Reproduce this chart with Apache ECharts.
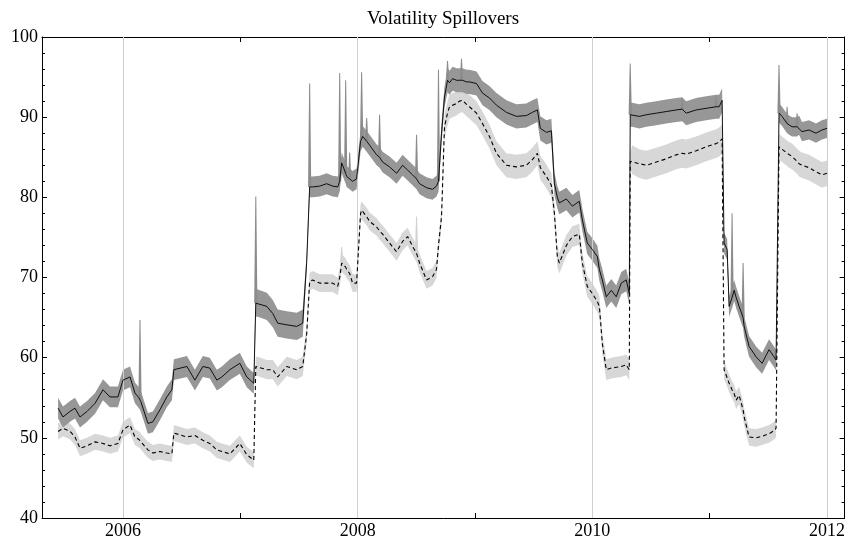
<!DOCTYPE html>
<html><head><meta charset="utf-8">
<script src="https://cdn.jsdelivr.net/npm/echarts@6/dist/echarts.min.js"></script>
<style>html,body{margin:0;padding:0;background:#fff}#c{width:848px;height:543px}</style>
</head><body><div id="c"></div>
<script>
const chartTitle = 'Volatility Spillovers';
const years = [
2005.447,2005.489,2005.549,2005.591,2005.634,2005.694,2005.762,2005.830,2005.889,2005.957,
2006.000,2006.060,2006.102,2006.136,2006.145,2006.153,2006.213,2006.255,2006.315,2006.374,
2006.417,2006.434,2006.545,2006.613,2006.681,2006.740,2006.800,2006.843,2006.911,2006.996,
2007.055,2007.115,2007.132,2007.149,2007.226,2007.277,2007.319,2007.396,2007.481,2007.532,
2007.566,2007.591,2007.617,2007.677,2007.736,2007.787,2007.830,2007.847,2007.864,2007.898,
2007.906,2007.932,2007.957,2007.991,2008.025,2008.034,2008.043,2008.077,2008.102,2008.162,
2008.187,2008.213,2008.272,2008.332,2008.383,2008.426,2008.468,2008.502,2008.528,2008.587,
2008.638,2008.672,2008.689,2008.715,2008.740,2008.766,2008.783,2008.809,2008.843,2008.868,
2008.885,2008.894,2008.928,2008.953,2009.013,2009.064,2009.123,2009.183,2009.268,2009.353,
2009.438,2009.489,2009.532,2009.557,2009.609,2009.651,2009.677,2009.702,2009.719,2009.779,
2009.830,2009.889,2009.915,2009.957,2010.000,2010.043,2010.060,2010.085,2010.119,2010.162,
2010.204,2010.247,2010.289,2010.315,2010.323,2010.340,2010.400,2010.460,2010.545,2010.630,
2010.715,2010.766,2010.800,2010.885,2010.970,2011.055,2011.081,2011.106,2011.123,2011.149,
2011.166,2011.191,2011.209,2011.226,2011.251,2011.285,2011.294,2011.336,2011.396,2011.447,
2011.506,2011.549,2011.566,2011.591,2011.617,2011.660,2011.677,2011.702,2011.745,2011.762,
2011.787,2011.847,2011.906,2011.957,2012.000
];
const solid = [
53.7,52.6,53.3,53.7,52.6,53.3,54.3,56.0,55.1,55.1,
57.2,57.6,55.6,55.0,54.8,54.5,51.8,52.0,53.5,55.1,
56.0,58.5,58.9,57.2,58.9,58.7,57.2,57.6,58.5,59.3,
57.6,56.8,66.8,66.8,66.4,65.5,64.3,64.1,63.9,64.3,
72.0,81.3,81.3,81.4,81.7,81.4,81.3,82.0,84.3,83.0,
82.6,82.3,82.0,82.3,87.0,87.3,87.6,87.0,86.5,85.3,
85.0,84.4,83.8,83.0,84.0,83.4,82.8,82.3,81.7,81.2,
81.0,81.4,82.0,88.0,92.5,94.6,94.3,94.8,94.6,94.6,
94.6,94.6,94.4,94.4,94.2,93.0,92.4,91.5,90.6,90.1,
90.2,90.6,90.9,88.6,88.1,88.3,81.7,80.0,79.3,79.8,
78.9,79.5,77.2,74.3,73.5,72.6,71.0,69.7,67.6,68.4,
67.6,69.3,69.7,68.0,90.3,90.3,90.1,90.3,90.5,90.7,
90.9,91.0,90.5,90.9,91.1,91.3,91.3,92.1,74.3,73.5,
66.4,67.5,68.4,67.5,66.4,65.0,63.9,61.4,60.1,59.3,
61.0,60.1,59.7,90.5,90.1,89.2,89.0,88.8,88.8,89.0,
88.2,88.4,88.0,88.4,88.6
];
const solidBand = [
1.3,1.3,1.3,1.3,1.3,1.3,1.3,1.3,1.3,1.3,
1.3,1.3,1.3,1.3,1.3,1.3,1.3,1.3,1.3,1.3,
1.3,1.3,1.3,1.3,1.3,1.3,1.3,1.3,1.3,1.3,
1.3,1.3,1.7,1.7,1.7,1.7,1.7,1.7,1.7,1.7,
1.0,1.3,1.3,1.3,1.3,1.3,1.3,1.3,1.3,1.3,
1.3,1.3,1.3,1.3,1.3,1.3,1.3,1.3,1.3,1.3,
1.3,1.3,1.3,1.3,1.3,1.3,1.3,1.3,1.3,1.3,
1.3,1.3,1.3,1.3,1.3,1.5,1.5,1.5,1.5,1.5,
1.5,1.5,1.5,1.5,1.5,1.5,1.5,1.5,1.5,1.5,
1.5,1.5,1.5,1.5,1.5,1.5,1.4,1.4,1.4,1.4,
1.4,1.4,1.4,1.4,1.4,1.4,1.4,1.4,1.4,1.4,
1.4,1.4,1.4,1.4,1.5,1.5,1.5,1.5,1.5,1.5,
1.5,1.5,1.5,1.5,1.5,1.5,1.5,1.5,1.3,1.3,
1.3,1.3,1.3,1.3,1.3,1.3,1.3,1.3,1.3,1.3,
1.3,1.3,1.3,1.2,1.2,1.2,1.2,1.2,1.2,1.2,
1.2,1.2,1.2,1.2,1.2
];
const dashed = [
50.8,51.2,50.8,50.1,48.7,49.0,49.5,49.3,49.0,49.3,
51.0,51.6,50.1,49.8,49.7,49.5,48.5,48.1,48.3,48.1,
48.0,50.6,50.1,50.3,49.7,49.3,48.5,48.3,48.0,49.3,
47.9,47.2,58.9,58.9,58.5,58.5,57.6,58.9,58.5,58.9,
63.0,69.5,69.7,69.3,69.3,69.3,68.9,70.0,71.8,71.3,
71.0,70.5,69.3,69.3,78.0,78.4,78.2,77.6,77.0,76.3,
75.8,75.4,74.3,73.2,74.5,75.1,73.9,73.0,71.8,69.7,
70.1,71.0,74.0,77.6,88.8,90.5,91.3,91.5,91.7,92.0,
92.1,92.1,91.6,91.3,90.5,89.2,87.6,85.5,84.0,83.8,
84.0,84.7,85.5,83.7,82.6,81.5,78.0,72.6,71.8,74.0,
75.1,75.4,71.8,68.9,68.0,67.0,66.4,61.8,58.5,58.7,
58.8,58.9,59.1,58.5,84.5,84.7,84.2,84.0,84.4,84.8,
85.3,85.5,85.4,85.8,86.3,86.7,86.9,87.3,58.5,57.5,
56.8,56.0,55.5,54.7,55.3,53.5,52.6,50.1,50.0,50.2,
50.5,50.9,51.2,86.3,86.0,85.5,85.3,85.1,84.5,84.2,
84.0,83.7,83.2,82.8,83.0
];
const dashedBand = [
1.0,1.0,1.0,1.0,1.0,1.0,1.0,1.0,1.0,1.0,
1.0,1.0,1.0,1.0,1.0,1.0,1.0,1.0,1.0,1.0,
1.0,1.0,1.0,1.0,1.0,1.0,1.0,1.0,1.0,1.0,
1.0,1.0,1.2,1.2,1.2,1.2,1.2,1.2,1.2,1.2,
1.1,1.1,1.1,1.1,1.1,1.1,1.1,1.1,1.1,1.1,
1.1,1.1,1.1,1.1,1.1,1.1,1.1,1.1,1.1,1.1,
1.1,1.1,1.1,1.1,1.1,1.1,1.1,1.1,1.1,1.1,
1.1,1.1,1.1,1.1,1.5,1.5,1.5,1.5,1.5,1.5,
1.5,1.5,1.5,1.5,1.5,1.5,1.5,1.5,1.5,1.5,
1.5,1.5,1.5,1.5,1.5,1.5,1.3,1.3,1.3,1.3,
1.3,1.3,1.3,1.3,1.3,1.3,1.3,1.3,1.3,1.3,
1.3,1.3,1.3,1.3,1.0,1.8,1.8,1.8,1.8,1.8,
1.8,1.8,1.8,1.8,1.8,1.8,1.8,1.8,1.1,1.1,
1.1,1.1,1.1,1.1,1.1,1.1,1.1,1.1,1.1,1.1,
1.1,1.1,1.1,1.6,1.6,1.6,1.6,1.6,1.6,1.6,
1.6,1.6,1.6,1.6,1.6
];
// Upper-bound spikes of the dark (solid) band
const solidSpikeYears = [2006.145, 2007.132, 2007.591, 2007.847, 2007.898, 2007.932, 2008.034, 2008.077,
  2008.187, 2008.502, 2008.689, 2008.766, 2008.885, 2010.323, 2010.766, 2011.055, 2011.191, 2011.285,
  2011.591, 2011.660, 2011.745];
const solidSpikeTops = [64.7, 80.1, 94.2, 95.5, 94.6, 85.6, 95.6, 89.9,
  90.3, 87.8, 95.9, 97.0, 97.3, 96.7, 92.3, 92.6, 78.0, 71.8,
  96.5, 91.3, 90.5];
// Upper-bound spikes of the light (dashed) band
const dashedSpikeYears = [2007.864, 2008.502];
const dashedSpikeTops = [73.8, 77.6];

const xLabelValues = [2006, 2008, 2010, 2012];
const xTickValues = [2006, 2007, 2008, 2009, 2010, 2011, 2012];
const gridYears = [2006, 2008, 2010, 2012];

const FONT = 'Liberation Serif, Times New Roman, serif';
const pair = (arr) => years.map((x, i) => [x, arr[i]]);
const bandData = (vals, w) => years.map((x, i) => [x, vals[i] - w[i], vals[i] + w[i]]);

function bandSeries(name, vals, w, color, z) {
  const data = bandData(vals, w);
  return {
    type: 'custom', name: name, data: data, silent: true, z: z,
    encode: {x: 0, y: [1, 2]},
    renderItem: function (params, api) {
      if (params.dataIndex !== 0) return null;
      const pts = [];
      for (let i = 0; i < data.length; i++) pts.push(api.coord([data[i][0], data[i][2]]));
      for (let i = data.length - 1; i >= 0; i--) pts.push(api.coord([data[i][0], data[i][1]]));
      return {type: 'polygon', shape: {points: pts}, style: {fill: color, stroke: null}};
    }
  };
}
function spikeSeries(name, sy, st, vals, color, z) {
  const data = sy.map((x, i) => [x, vals[years.indexOf(x)], st[i]]);
  return {
    type: 'custom', name: name, data: data, silent: true, z: z,
    encode: {x: 0, y: [1, 2]},
    renderItem: function (params, api) {
      const b = api.coord([api.value(0), api.value(1)]);
      const t = api.coord([api.value(0), api.value(2)]);
      return {type: 'polygon', shape: {points: [[b[0] - 1.6, b[1]], [t[0] - 0.5, t[1]], [t[0] + 0.5, t[1]], [b[0] + 1.6, b[1]]]},
        style: {fill: color, stroke: null}};
    }
  };
}

const chart = echarts.init(document.getElementById('c'), null, {renderer: 'canvas'});
const xBase = {
  type: 'value', min: 2005.31, max: 2012.15,
  axisLine: {show: true, lineStyle: {color: '#000', width: 1}},
  splitLine: {show: false}
};
const yBase = {
  type: 'value', min: 40, max: 100, interval: 10,
  axisLine: {show: true, lineStyle: {color: '#000', width: 1}},
  axisTick: {show: true, inside: true, length: 5, lineStyle: {color: '#000'}},
  minorTick: {show: true, splitNumber: 5, length: 3, lineStyle: {color: '#000'}},
  splitLine: {show: false}, minorSplitLine: {show: false}
};
const option = {
  animation: false,
  backgroundColor: '#fff',
  graphic: [{
    type: 'text', x: 443, y: 19,
    style: {text: chartTitle, fontSize: 19, fontFamily: FONT, fill: '#000', align: 'center', verticalAlign: 'middle'}
  }],
  grid: {left: 42, right: 3, top: 37, bottom: 25, containLabel: false},
  xAxis: [
    Object.assign({}, xBase, {
      position: 'bottom',
      axisTick: {show: true, inside: true, length: 5, customValues: xTickValues, lineStyle: {color: '#000'}},
      axisLabel: {show: true, customValues: xLabelValues, color: '#000', fontSize: 18, fontFamily: FONT, margin: 4,
        formatter: v => String(Math.round(v))}
    }),
    Object.assign({}, xBase, {
      position: 'top',
      axisTick: {show: true, inside: true, length: 5, customValues: xTickValues, lineStyle: {color: '#000'}},
      axisLabel: {show: false}
    })
  ],
  yAxis: [
    Object.assign({}, yBase, {position: 'left',
      axisLabel: {show: true, color: '#000', fontSize: 18, fontFamily: FONT, margin: 4}}),
    Object.assign({}, yBase, {position: 'right', axisLabel: {show: false}})
  ],
  series: [
    {
      type: 'line', name: 'grid', data: pair(dashed), symbol: 'none',
      lineStyle: {opacity: 0, width: 0}, silent: true, z: 1,
      markLine: {
        silent: true, symbol: 'none', label: {show: false},
        lineStyle: {color: '#cfcfcf', type: 'solid', width: 1},
        data: gridYears.map(v => ({xAxis: v}))
      }
    },
    bandSeries('dashedBand', dashed, dashedBand, '#d7d7d7', 2),
    spikeSeries('dashedSpikes', dashedSpikeYears, dashedSpikeTops, dashed, '#d2d2d2', 2),
    bandSeries('solidBand', solid, solidBand, '#979797', 3),
    spikeSeries('solidSpikes', solidSpikeYears, solidSpikeTops, solid, '#8c8c8c', 4),
    {
      type: 'line', name: 'dashed', data: pair(dashed),
      symbol: 'none', silent: true, z: 6,
      lineStyle: {color: '#000', width: 1.1, type: [4, 3]}
    },
    {
      type: 'line', name: 'solid', data: pair(solid),
      symbol: 'none', silent: true, z: 7,
      lineStyle: {color: '#000', width: 0.9}
    }
  ]
};
chart.setOption(option);
</script>
</body></html>
